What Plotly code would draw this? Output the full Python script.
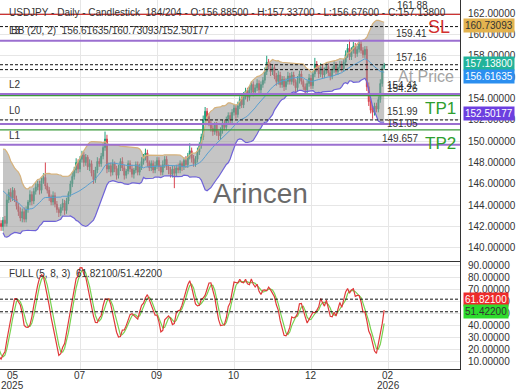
import pandas as pd
import plotly.graph_objects as go

# ---------------- data ----------------
warmup_closes = [146.4, 147.2, 147.8, 148.3, 147.6, 146.9, 146.2, 145.8, 146.7, 147.3,
                 146.1, 145.2, 144.4, 143.6, 144.2, 143.5, 142.9, 142.3, 142.0]
first_open = 146.0

closes = [
    142.6, 142.3, 144.5, 145.2, 144.7, 145.4, 144.6, 143.9, 143.4, 142.8,
    143.4, 142.7, 143.6, 144.3, 145.0, 144.4, 145.3, 145.7, 146.0, 145.4,
    146.3, 146.6, 145.8, 145.4, 144.8, 144.3, 144.9, 144.1, 143.6, 143.3,
    143.8, 144.2, 143.5, 144.4, 145.1, 146.0, 146.7, 147.3, 148.0, 147.4,
    148.3, 148.7, 148.0, 148.5, 147.6, 147.9, 147.0, 146.4, 147.3, 148.1,
    147.9, 148.6, 149.4, 150.2, 147.4, 147.7, 147.1, 147.9, 147.4, 146.8,
    147.5, 148.1, 147.5, 146.8, 147.2, 147.9, 147.4, 146.9, 147.3, 147.8,
    147.1, 147.6, 148.1, 148.5, 148.9, 148.0, 147.5, 147.9, 147.3, 147.7,
    148.2, 147.6, 147.1, 147.8, 148.3, 147.6, 147.3, 146.9, 147.4, 147.0,
    147.5, 147.3, 147.9, 147.6, 148.2, 147.8, 148.6, 149.1, 148.4, 147.9,
    148.3, 149.0, 149.6, 150.4, 152.0, 152.8, 152.3, 151.7, 151.2, 150.9,
    151.5, 150.8, 150.5, 151.0, 151.7, 151.3, 151.9, 152.4, 152.0, 152.7,
    153.1, 152.5, 153.3, 153.9, 153.4, 154.2, 154.7, 154.1, 154.8, 155.3,
    154.6, 155.0, 155.4, 154.8, 155.3, 155.7, 156.5, 157.4, 157.0, 156.5,
    156.9, 156.1, 155.6, 156.2, 155.3, 155.8, 155.1, 155.6, 156.1, 155.6,
    156.2, 155.5, 155.0, 155.7, 156.3, 155.6, 155.1, 154.8, 155.4, 155.9,
    155.2, 156.3, 157.2, 156.8, 156.3, 156.9, 156.2, 156.6, 157.0, 156.4,
    156.1, 156.7, 157.1, 156.5, 156.9, 157.2, 156.8, 157.4, 158.1, 158.7,
    157.9, 158.5, 158.9, 158.2, 158.6, 159.1, 158.5, 158.1, 158.6, 155.1,
    153.7, 152.9, 152.7, 153.3, 153.0, 153.9, 155.4, 156.885, 157.138,
]

upper_wicks = [
    .3, .4, .3, .5, .2, .3, .4, .3, .5, .3, .2, .4, .3, .3, .5, .2, .4, .3, .3,
    .3, .4, .5, .3, .4, .3, .2, .3, .3, .4,
    .3, .4, .3, .2, .4, .3, .3, .4, .3, .3,
    .3, .4, 1.4, .3, .3, .2, .4, .3, .3, .2,
    .3, .4, .3, .3, .2, .3, .4, .3, .4, .3,
    .3, .4, .3, .3, .2, .4, .3, .3, .3, .4,
    .3, .3, .4, .7, .4, .3, .3, .4, .2, .3,
    .3, .3, .4, .3, .2, .3, .3, .4, .2, .3,
    .3, .3, .4, .3, .4, .3, .2, .3, .3, .4,
    .3, .3, .2, .4, .3, .3, .2, .3, .3, .3,
    .3, .4, .3, .2, .3, .4, .3, .7, .3, .3,
    .3, .4, .3, .3, .4, .4, .3, .3, .2, .3,
    .3, .3, .2, .3, .3, .3, .4, .3, .3, .3,
    .3, .3, .4, .3, .3, .4, .3, .3, .4, .3,
    .3, .3, .4, .3, .3, .3, .4, .6, .3, .3,
    .3, .3, .3, .4, .3, .3, .3, .3, .4, .3,
    .3, .3, .3, .4, .3, .3, .2, .3, .3, .4,
    .3, .3, .6, .3, .3, .4, .3, .3, .3, .3,
    .3, .3, .4, .3, .3, .3, .3, .3, .4, .4,
    .8, .3, .4, .3, .3, .4, .3, .3, .3, .3,
    .4, .3, .3, .3, .3, .3, .4, .3, .199,
]

lower_wicks = [
    .3, .2, .4, .3, .3, .5, .2, .3, .3, .4, .3, .2, .4, .3, .3, .4, .3, .5, .4,
    .4, .3, .3, .3, .4, .3, .3, .3, .4, .3,
    .4, .3, .3, .3, .3, .4, .3, .3, .3, .4,
    .3, .3, .3, .3, .4, .3, .3, .3, .3, .4,
    .3, .3, .4, .3, .3, .3, .3, .3, .3, .4,
    .3, .3, .4, .3, .3, .4, .3, .4, .3, .3,
    .3, .3, .3, .3, .4, .3, .4, .3, .3, .4,
    .3, .3, .3, .4, .3, .3, .3, .3, .4, .3,
    .3, .3, .3, .3, .3, .4, .3, .3, .3, .3,
    .3, .4, .3, .3, .3, .3, .4, .3, .3, 1.4,
    .3, .3, .3, .4, .3, .3, .3, .3, .4, .3,
    .3, .3, .3, .3, .3, .3, .4, .3, .3, .4,
    .3, .3, .4, .3, .3, .3, .3, .3, .4, .3,
    .3, .4, .3, .3, .3, .3, .3, .4, .3, .3,
    .4, .3, .3, .3, .3, .3, .3, .3, .3, .4,
    .3, .3, .4, .3, .3, .3, .4, .3, .3, .3,
    .3, .3, .4, .3, .3, .3, .3, .3, .3, .3,
    .3, .3, .3, .3, .4, .3, .3, .3, .3, .3,
    .4, .3, .3, .3, .3, .3, .3, .3, .3, .3,
    .3, .3, .3, .4, .3, .3, .3, .3, .3, .4,
    .4, .3, .6, .3, .3, .3, .3, .3, .209,
]

# x-axis tick positions (bar index) and labels
tick_bars = [40, 80, 120, 160, 200]
tick_months = ["07", "09", "10", "12", "02"]
first_tick_bar = 5
first_tick_month = "05"
year_labels = [(5, "2025"), (200, "2026")]

# horizontal levels
level_values = [161.88, 160.73, 159.41, 157.16, 156.70, 154.41, 154.26, 151.99, 151.60, 151.05, 149.657]
level_colors = ["#cc3333", "#111111", "#9b6fd0", "#111111", "#111111", "#9b6fd0", "#3a9a3a",
                "#111111", "#9b6fd0", "#3a9a3a", "#9b6fd0"]
level_dash = ["solid", "3px,2px", "solid", "3px,2px", "3px,2px", "solid", "solid",
              "3px,2px", "solid", "solid", "solid"]
level_width = [1.2, 1, 2, 1, 1, 2, 1.2, 1, 2, 1.2, 2]

header = "USDJPY - Daily - Candlestick  184/204 - O:156.88500 - H:157.33700 - L:156.67600 - C:157.13800"
bb_text = "BB (20, 2)  156.61635/160.73093/152.50177"
stoch_text = "FULL (5, 8, 3)  61.82100/51.42200"
stoch_k_last, stoch_d_last = 61.821, 51.422
# axis price tags: text, background, text colour, vertical pixel position (spread apart as in the picture)
bb_tags = [("160.73093", "#e3b34f", "#333333", 26),
           ("157.13800", "#22b39a", "#ffffff", 64),
           ("156.61635", "#2b8ff0", "#ffffff", 77),
           ("152.50177", "#6c3fe0", "#ffffff", 113)]

# ---------------- derived series ----------------
all_close = warmup_closes + closes
n_warm = len(warmup_closes)
idx = list(range(-n_warm, len(closes)))
opens = [first_open] + all_close[:-1]
highs = [max(o, c) + w for o, c, w in zip(opens, all_close, upper_wicks)]
lows = [min(o, c) - w for o, c, w in zip(opens, all_close, lower_wicks)]

s = pd.Series(all_close)
mid = s.rolling(20).mean()
sd = s.rolling(20).std(ddof=0)
up = mid + 2 * sd
lo = mid - 2 * sd

H = pd.Series(highs); L = pd.Series(lows)
hh = H.rolling(5).max(); ll = L.rolling(5).min()
raw = 100 * (s - ll) / (hh - ll)
k = raw.rolling(8).mean()
d = k.rolling(3).mean()

W, Hh = 520, 390
def px(x): return x / W
def py(y): return 1 - y / Hh

fig = go.Figure()
fig.add_trace(go.Scatter(x=idx, y=up, mode="lines", line=dict(width=0, color="rgba(0,0,0,0)"),
                         showlegend=False, hoverinfo="skip"))
fig.add_trace(go.Scatter(x=idx, y=lo, mode="lines", line=dict(width=0, color="rgba(0,0,0,0)"),
                         fill="tonexty", fillcolor="rgba(150,150,150,0.55)", showlegend=False, hoverinfo="skip"))
fig.add_trace(go.Scatter(x=idx, y=up, mode="lines", line=dict(width=1.2, color="#d6b27c"), showlegend=False))
fig.add_trace(go.Scatter(x=idx, y=lo, mode="lines", line=dict(width=1.2, color="#6f63d8"), showlegend=False))
fig.add_trace(go.Scatter(x=idx, y=mid, mode="lines", line=dict(width=1, color="#5a9fd0"), showlegend=False))
fig.add_trace(go.Candlestick(x=idx, open=opens, high=highs, low=lows, close=all_close,
                             increasing=dict(line=dict(color="#1f9e7a", width=1), fillcolor="#1f9e7a"),
                             decreasing=dict(line=dict(color="#d9434f", width=1), fillcolor="#d9434f"),
                             whiskerwidth=0, showlegend=False))
fig.add_trace(go.Scatter(x=idx, y=d, mode="lines", line=dict(width=1.2, color="#77d150"),
                         xaxis="x2", yaxis="y2", showlegend=False))
fig.add_trace(go.Scatter(x=idx, y=k, mode="lines", line=dict(width=1.2, color="#e03a3a"),
                         xaxis="x2", yaxis="y2", showlegend=False))

xr = [-1.56, 237.4]
for v, c, dsh, w in zip(level_values, level_colors, level_dash, level_width):
    fig.add_shape(type="line", xref="x", yref="y", x0=xr[0], x1=xr[1], y0=v, y1=v,
                  line=dict(color=c, width=w, dash=dsh))
for v in (stoch_k_last, stoch_d_last):
    fig.add_shape(type="line", xref="x2", yref="y2", x0=xr[0], x1=xr[1], y0=v, y1=v,
                  line=dict(color="#111111", width=1, dash="3px,2px"))

ann = []
def txt(x, y, t, size=10, color="#333333", xa="left", ya="middle", bg=None):
    a = dict(x=px(x), y=py(y), xref="paper", yref="paper", text=t, showarrow=False,
             xanchor=xa, yanchor=ya, font=dict(size=size, color=color))
    if bg:
        a.update(bgcolor=bg, borderpad=1)
    ann.append(a)

txt(7, 12, header)
txt(9, 31, bb_text)
txt(7, 31, "L3")
txt(7, 84, "L2")
txt(7, 110, "L0")
txt(7, 135, "L1")
txt(7, 273, stoch_text)
txt(260, 193, "Arincen", size=28, color="#6a6a6a", xa="center")
txt(412, 6, "161.88", xa="center")
txt(411, 33, "159.41", xa="center")
txt(411, 57, "157.16", xa="center")
txt(402, 85, "154.41", xa="center")
txt(402, 89, "154.26", xa="center")
txt(402, 112, "151.99", xa="center")
txt(402, 124, "151.05", xa="center")
txt(400, 138, "149.657", xa="center")
txt(439, 27, "SL", size=18, color="#d33030", xa="center")
txt(426, 77, "At Price", size=16, color="#a3a3a3", xa="center")
txt(440, 108, "TP1", size=17, color="#2e9e2e", xa="center")
txt(440, 143, "TP2", size=17, color="#2e9e2e", xa="center")

for b, t in zip([first_tick_bar] + tick_bars, [first_tick_month] + tick_months):
    ann.append(dict(x=b, y=py(375), xref="x2", yref="paper", text=t, showarrow=False,
                    xanchor="center", yanchor="middle", font=dict(size=10, color="#333333")))
for b, t in year_labels:
    ann.append(dict(x=b, y=py(385), xref="x2", yref="paper", text=t, showarrow=False,
                    xanchor="center", yanchor="middle", font=dict(size=10, color="#333333")))

for t, bg, fc, ypix in bb_tags:
    txt(463, ypix, t, color=fc, bg=bg)
ann.append(dict(x=px(463), y=stoch_k_last, xref="paper", yref="y2", text="61.82100", showarrow=False,
                xanchor="left", yanchor="middle", bgcolor="#ee2b2b", borderpad=1,
                font=dict(size=10, color="#ffffff")))
ann.append(dict(x=px(463), y=stoch_d_last, xref="paper", yref="y2", text="51.42200", showarrow=False,
                xanchor="left", yanchor="middle", bgcolor="#2edc2e", borderpad=1,
                font=dict(size=10, color="#333333")))

grid = "#e6e6e6"
fig.update_layout(
    width=W, height=Hh, margin=dict(l=0, r=0, t=0, b=0),
    paper_bgcolor="white", plot_bgcolor="white",
    font=dict(family="Liberation Sans, Arial, sans-serif", size=10, color="#333333"),
    showlegend=False, annotations=ann, hovermode=False,
    xaxis=dict(domain=[0, 460 / W], range=xr, anchor="y", showticklabels=False,
               tickvals=tick_bars, showgrid=True, gridcolor=grid, zeroline=False,
               showline=True, linecolor="#333333", linewidth=1, rangeslider=dict(visible=False),
               automargin=False),
    yaxis=dict(domain=[1 - 261 / Hh, 1], range=[138.78, 163.22], side="right", anchor="x",
               tickvals=list(range(138, 164, 2)), tickformat=".5f", showgrid=True, gridcolor=grid,
               zeroline=False, showline=True, linecolor="#333333", linewidth=1,
               ticks="outside", ticklen=5, tickcolor="rgba(0,0,0,0)", automargin=False),
    xaxis2=dict(domain=[0, 460 / W], range=xr, anchor="y2", tickvals=tick_bars, showticklabels=False,
                showgrid=True, gridcolor=grid, zeroline=False, showline=True, linecolor="#333333",
                linewidth=1, ticks="", automargin=False),
    yaxis2=dict(domain=[1 - 369 / Hh, 1 - 262 / Hh], range=[4.2, 92.5], side="right", anchor="x2",
                tickvals=list(range(10, 100, 10)), tickformat=".5f", showgrid=True, gridcolor=grid,
                zeroline=False, showline=True, linecolor="#333333", linewidth=1,
                ticks="outside", ticklen=5, tickcolor="rgba(0,0,0,0)", automargin=False),
)

fig.write_html("out.html")
